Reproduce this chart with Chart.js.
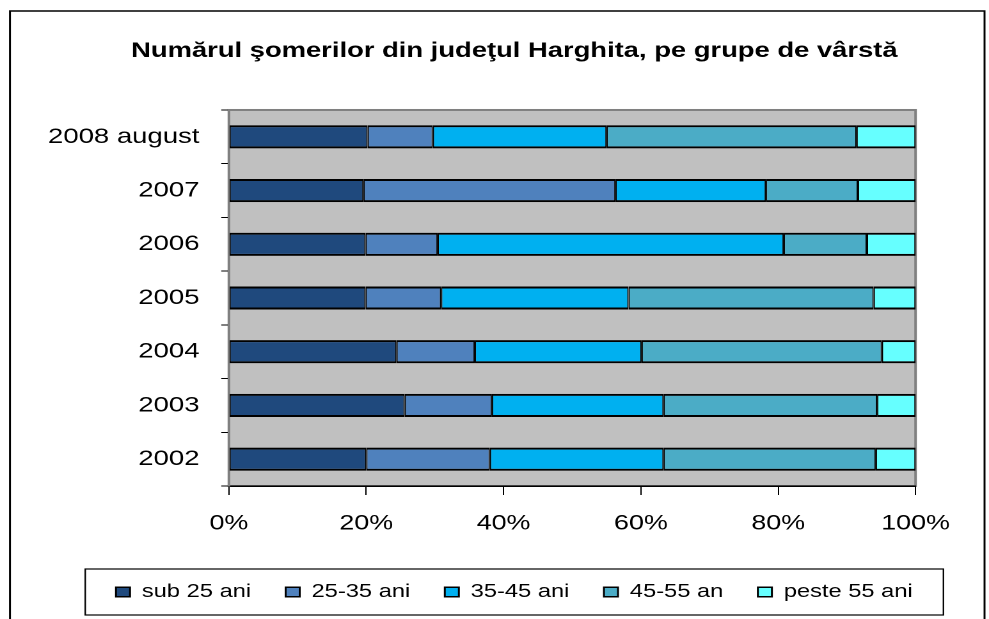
<!DOCTYPE html>
<html>
<head>
<meta charset="utf-8">
<script src="https://cdn.jsdelivr.net/npm/chart.js@4/dist/chart.umd.min.js"></script>
<style>
  html, body { margin: 0; padding: 0; background: #fff; overflow: hidden; }
</style>
</head>
<body>
<!-- the reference is a horizontally stretched picture, so the canvas is drawn narrow and stretched -->
<canvas id="chart" width="773" height="619" style="width:989px;height:619px;display:block"></canvas>
<script>
// ===================== DATA =====================
const categories = ['2008 august', '2007', '2006', '2005', '2004', '2003', '2002'];
const seriesNames = ['sub 25 ani', '25-35 ani', '35-45 ani', '45-55 an', 'peste 55 ani'];
const sub25 = [20.2, 19.6, 19.9, 19.9, 24.4, 25.6, 20.0];
const age25to35 = [9.5, 36.7, 10.5, 11.0, 11.4, 12.7, 18.0];
const age35to45 = [25.3, 21.9, 50.4, 27.3, 24.3, 25.0, 25.3];
const age45to55 = [36.4, 13.4, 12.1, 35.7, 35.0, 31.1, 30.9];
const over55 = [8.6, 8.4, 7.1, 6.1, 4.9, 5.6, 5.8];
const xTicks = [0, 20, 40, 60, 80, 100];

const seriesValues = [sub25, age25to35, age35to45, age45to55, over55];
const seriesColors = ['#1F497D', '#4F81BD', '#00B0F0', '#4BACC6', '#66FFFF'];

const FONT = "'Liberation Sans', Arial, sans-serif";

// ===================== PLOT BACKGROUND + FRAMES =====================
const framePlugin = {
  id: 'frames',
  afterLayout(chart) {
    // let the long category label draw past the left edge of the axis box
    chart.scales.y.left = 0;
  },
  beforeDraw(chart) {
    const ctx = chart.ctx;
    const a = chart.chartArea;
    ctx.save();
    // outer chart border
    ctx.strokeStyle = '#000';
    ctx.lineWidth = 1.5;
    ctx.strokeRect(7.8, 11, 761.7, chart.height + 10);
    // gray plot area
    ctx.fillStyle = '#C0C0C0';
    ctx.fillRect(a.left, a.top, a.right - a.left, a.bottom - a.top);
    ctx.strokeStyle = '#808080';
    ctx.lineWidth = 2;
    ctx.strokeRect(a.left, a.top, a.right - a.left, a.bottom - a.top);
    ctx.restore();
  },
  afterDraw(chart) {
    const hb = chart.legend && chart.legend.legendHitBoxes;
    if (!hb || !hb.length) return;
    const left = Math.min(...hb.map(h => h.left)) - 24;
    const right = Math.max(...hb.map(h => h.left + h.width)) + 24;
    const mid = hb[0].top + hb[0].height / 2;
    const ctx = chart.ctx;
    ctx.save();
    ctx.strokeStyle = '#000';
    ctx.lineWidth = 1.2;
    ctx.strokeRect(left, mid - 23, right - left, 46);
    ctx.restore();
  }
};

// ===================== CHART =====================
new Chart(document.getElementById('chart'), {
  type: 'bar',
  data: {
    labels: categories,
    datasets: seriesNames.map((name, i) => ({
      label: name,
      data: seriesValues[i],
      backgroundColor: seriesColors[i],
      borderColor: '#000',
      borderWidth: { top: 2, bottom: 2, left: 1, right: 1 },
      borderSkipped: false,
      barPercentage: 0.43,
      categoryPercentage: 1
    }))
  },
  options: {
    indexAxis: 'y',
    responsive: false,
    devicePixelRatio: 2,
    animation: false,
    layout: { padding: { left: 36, right: 5, top: 0, bottom: 7.75 } },
    plugins: {
      title: {
        display: true,
        text: 'Numărul şomerilor din judeţul Harghita, pe grupe de vârstă',
        color: '#000',
        font: { family: FONT, size: 21.4, weight: 'bold' },
        padding: { top: 38.5, bottom: 45.8 }
      },
      legend: {
        position: 'bottom',
        labels: {
          color: '#000',
          font: { family: FONT, size: 18.5 },
          boxWidth: 11,
          boxHeight: 9.5,
          padding: 27,
          generateLabels: chart => chart.data.datasets.map((ds, i) => ({
            text: ds.label,
            fillStyle: ds.backgroundColor,
            strokeStyle: '#000',
            lineWidth: 1.5,
            hidden: false,
            datasetIndex: i
          }))
        }
      },
      tooltip: { enabled: false }
    },
    scales: {
      x: {
        stacked: true,
        min: 0,
        max: 100,
        afterBuildTicks: scale => { scale.ticks = xTicks.map(v => ({ value: v })); },
        afterFit: scale => {
          scale.height = 69.75;
          scale.paddingRight = 57.4;
        },
        ticks: {
          color: '#000',
          font: { family: FONT, size: 21 },
          padding: 16,
          maxRotation: 0,
          callback: v => v + '%'
        },
        grid: { display: true, drawOnChartArea: false, tickLength: 9, color: '#000', lineWidth: 1 },
        border: { display: true, color: '#000', width: 1.5 }
      },
      y: {
        stacked: true,
        afterFit: scale => { scale.width = 142.9; },
        ticks: {
          color: '#000',
          font: { family: FONT, size: 21.5 },
          padding: 17
        },
        grid: { display: true, offset: true, drawOnChartArea: false, tickLength: 6, color: '#000', lineWidth: 1 },
        border: { display: true, color: '#808080', width: 2 }
      }
    }
  },
  plugins: [framePlugin]
});
</script>
</body>
</html>
